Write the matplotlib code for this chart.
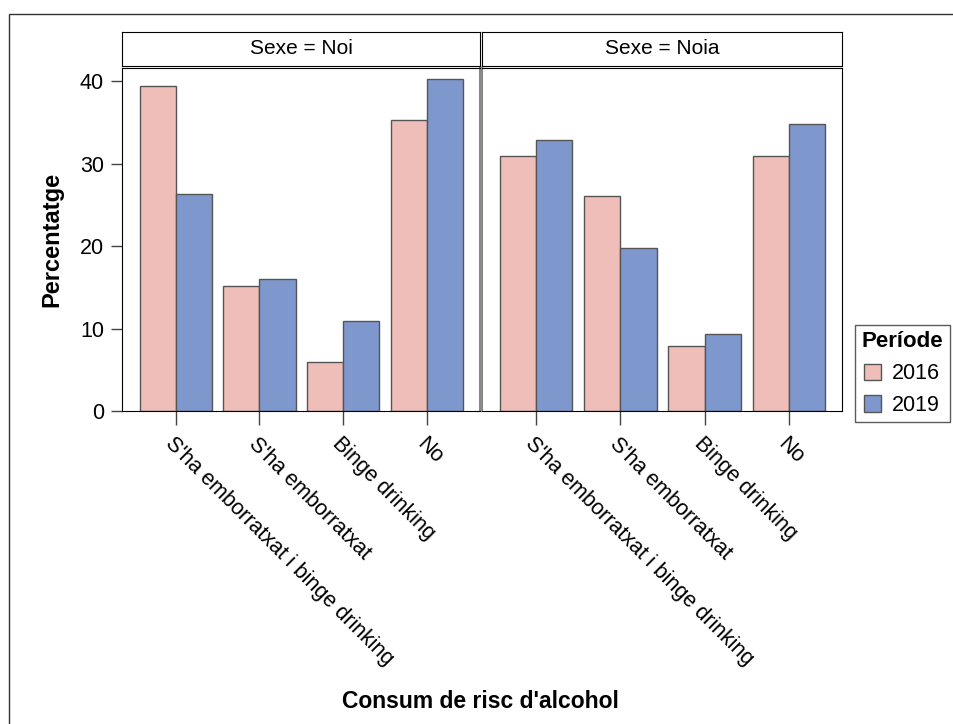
import matplotlib
matplotlib.use("Agg")
import matplotlib.pyplot as plt
from matplotlib.patches import Rectangle, Patch
import numpy as np

plt.rcParams['font.family'] = ['Liberation Sans', 'DejaVu Sans']

categories = ["S'ha emborratxat i binge drinking", "S'ha emborratxat", "Binge drinking", "No"]
panels = ["Sexe = Noi", "Sexe = Noia"]
years = ["2016", "2019"]
values = {
    "Sexe = Noi": {"2016": [39.4, 15.1, 6.0, 35.3], "2019": [26.3, 16.0, 10.9, 40.3]},
    "Sexe = Noia": {"2016": [30.9, 26.1, 7.9, 30.9], "2019": [32.9, 19.8, 9.3, 34.8]},
}
colors = {"2016": "#EFBEB8", "2019": "#7E97CC"}
yticks = [0, 10, 20, 30, 40]

W, H = 954, 724
fig = plt.figure(figsize=(W / 100, H / 100), dpi=100)

def fx(px):
    return px / W

def fy(py):
    return 1 - py / H

# outer frame
fig.patches.append(Rectangle((fx(9), -0.05), 1.1, fy(14) + 0.05, transform=fig.transFigure,
                             fill=False, edgecolor='#333333', linewidth=1.0))

panel_px = [(122, 480), (482, 842)]
bw = 0.43
x = np.arange(len(categories))

for i, (pname, (l, r)) in enumerate(zip(panels, panel_px)):
    ax = fig.add_axes([fx(l), fy(411), fx(r) - fx(l), fy(68) - fy(411)])
    for yr, off in zip(years, [-bw, 0]):
        ax.bar(x + off, values[pname][yr], width=bw, align='edge', color=colors[yr],
               edgecolor='#555555', linewidth=1.0, zorder=2)
    ax.set_xlim(-0.64, 3.63)
    ax.set_ylim(0, 41.6)
    ax.set_xticks(x)
    ax.set_xticklabels(categories, rotation=-45, ha='left', va='top',
                       rotation_mode='anchor', fontsize=15.5)
    ax.tick_params(axis='x', length=10, width=1, color='#444444', pad=6)
    ax.set_yticks(yticks)
    if i == 0:
        ax.set_yticklabels([str(v) for v in yticks], fontsize=15.5)
        ax.tick_params(axis='y', length=8, width=1, color='#444444', pad=5)
        ax.set_ylabel("Percentatge", fontsize=17, fontweight='bold', labelpad=12)
        ax.spines['right'].set_color('#888888')
        ax.spines['right'].set_linewidth(1.5)
    else:
        ax.tick_params(axis='y', length=0, labelleft=False)
        ax.spines['left'].set_color('#888888')
        ax.spines['left'].set_linewidth(1.5)
    for s in ax.spines.values():
        s.set_zorder(3)
    # strip
    sax = fig.add_axes([fx(l), fy(66), fx(r) - fx(l), fy(32) - fy(66)])
    sax.set_xticks([])
    sax.set_yticks([])
    sax.text(0.5, 0.5, pname, ha='center', va='center', fontsize=15, transform=sax.transAxes)

fig.text(fx(480), fy(702), "Consum de risc d'alcohol", ha='center', va='center',
         fontsize=16.5, fontweight='bold')

handles = [Patch(facecolor=colors[y], edgecolor='#555555', label=y) for y in years]
leg = fig.legend(handles=handles, title="Període", loc='upper left',
                 bbox_to_anchor=(fx(855), fy(325)), fontsize=15.5, title_fontsize=16,
                 frameon=True, fancybox=False, edgecolor='#333333', borderpad=0.3,
                 handlelength=0.8, handleheight=0.8, handletextpad=0.5, labelspacing=0.5,
                 borderaxespad=0)
leg.get_title().set_fontweight('bold')
leg.get_frame().set_linewidth(1.0)

fig.savefig("out.png", dpi=100)
